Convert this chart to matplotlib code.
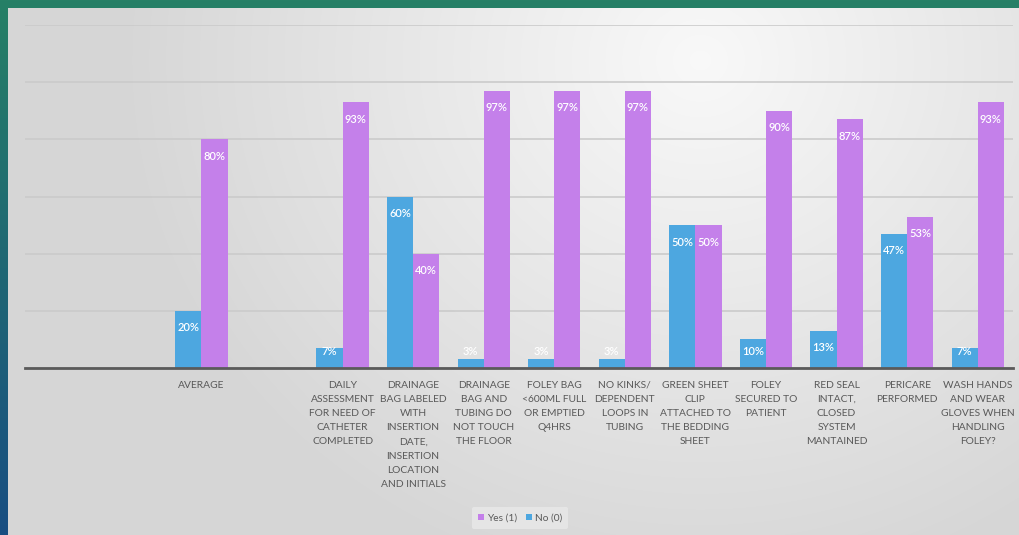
import numpy as np
import matplotlib
matplotlib.use("Agg")
import matplotlib.pyplot as plt

# Audit items (blank rows keep the spacing used on the slide)
categories = [
    "",
    "",
    "AVERAGE",
    "",
    "DAILY\nASSESSMENT\nFOR NEED OF\nCATHETER\nCOMPLETED",
    "DRAINAGE\nBAG LABELED\nWITH\nINSERTION\nDATE,\nINSERTION\nLOCATION\nAND INITIALS",
    "DRAINAGE\nBAG AND\nTUBING DO\nNOT TOUCH\nTHE FLOOR",
    "FOLEY BAG\n<600ML FULL\nOR EMPTIED\nQ4HRS",
    "NO KINKS/\nDEPENDENT\nLOOPS IN\nTUBING",
    "GREEN SHEET\nCLIP\nATTACHED TO\nTHE BEDDING\nSHEET",
    "FOLEY\nSECURED TO\nPATIENT",
    "RED SEAL\nINTACT,\nCLOSED\nSYSTEM\nMANTAINED",
    "PERICARE\nPERFORMED",
    "WASH HANDS\nAND WEAR\nGLOVES WHEN\nHANDLING\nFOLEY?",
]
no_vals = [np.nan, np.nan, 0.20, np.nan, 0.07, 0.60, 0.03, 0.03, 0.03, 0.50, 0.10, 0.13, 0.47, 0.07]
yes_vals = [np.nan, np.nan, 0.80, np.nan, 0.93, 0.40, 0.97, 0.97, 0.97, 0.50, 0.90, 0.87, 0.53, 0.93]

BLUE = "#4da7e0"
PURPLE = "#c480ea"
TEXT = "#595959"
W, H = 1020, 535

plt.rcParams["font.family"] = ["Lato", "DejaVu Sans"]

fig = plt.figure(figsize=(W / 100, H / 100), dpi=100)

# slide background: green at the top fading to deep blue at the bottom
bg = fig.add_axes([0, 0, 1, 1])
yy, xx = np.mgrid[0:H, 0:W]
t = (yy / H)[..., None]
top_col = np.array([38, 128, 102]) / 255
bot_col = np.array([24, 78, 130]) / 255
bg_img = top_col * (1 - t) + bot_col * t
bg.imshow(bg_img, extent=[0, W, H, 0], aspect="auto")

# light grey panel with a soft highlight toward the upper right
px0, py0, px1, py1 = 8, 8, W, H
dist = np.sqrt(((xx - 700) / 560.0) ** 2 + ((yy - 60) / 520.0) ** 2)
shade = np.clip(0.975 - 0.13 * dist, 0.84, 0.975)
panel = np.repeat(shade[..., None], 3, axis=2)
bg.imshow(panel[py0:py1, px0:px1], extent=[px0, px1, py1, py0], aspect="auto")
bg.set_xlim(0, W)
bg.set_ylim(H, 0)
bg.axis("off")

# chart area: baseline at y=368 px, 1.2 gridline at y=25 px
left, right = 25 / W, 1013 / W
bottom, top = (H - 368) / H, (H - 25) / H
ax = fig.add_axes([left, bottom, right - left, top - bottom])
ax.patch.set_alpha(0)

x = np.arange(len(categories))
bw = 0.37
no_arr = np.array(no_vals, dtype=float)
yes_arr = np.array(yes_vals, dtype=float)
ax.bar(x - bw / 2, np.nan_to_num(no_arr), bw, color=BLUE, zorder=3, label="No (0)")
ax.bar(x + bw / 2, np.nan_to_num(yes_arr), bw, color=PURPLE, zorder=3, label="Yes (1)")

for xi, v in zip(x - bw / 2, no_arr):
    if not np.isnan(v):
        ax.text(xi, max(v - 0.06, 0.056), f"{v * 100:.0f}%", ha="center", va="center",
                color="white", fontsize=8, fontweight="semibold", zorder=4)
for xi, v in zip(x + bw / 2, yes_arr):
    if not np.isnan(v):
        ax.text(xi, max(v - 0.06, 0.056), f"{v * 100:.0f}%", ha="center", va="center",
                color="white", fontsize=8, fontweight="semibold", zorder=4)

ax.set_xlim(-0.5, len(categories) - 0.5)
ax.set_ylim(0, 1.2)
ax.set_yticks(np.arange(0, 1.21, 0.2))
ax.yaxis.grid(True, color="#cbcbcb", linewidth=1.2, zorder=0)
ax.tick_params(axis="y", left=False, labelleft=False)
ax.set_xticks(x)
ax.set_xticklabels(categories, fontsize=7.4, color=TEXT, linespacing=1.75)
ax.tick_params(axis="x", length=0, pad=9)
for side in ["top", "right", "left"]:
    ax.spines[side].set_visible(False)
ax.spines["bottom"].set_color("#5a5a5a")
ax.spines["bottom"].set_linewidth(2)
ax.spines["bottom"].set_zorder(5)

# legend, Yes listed first
handles, labels = ax.get_legend_handles_labels()
leg = fig.legend(handles[::-1], labels[::-1], loc="center", bbox_to_anchor=(520 / W, (H - 518) / H),
                 ncol=2, frameon=True, fontsize=7.3, handlelength=0.6, handleheight=0.6,
                 handletextpad=0.3, columnspacing=0.9, borderpad=0.6)
leg.get_frame().set_facecolor("#e9e9e9")
leg.get_frame().set_edgecolor("none")
for txt in leg.get_texts():
    txt.set_color(TEXT)

fig.savefig("out.png", dpi=100)
